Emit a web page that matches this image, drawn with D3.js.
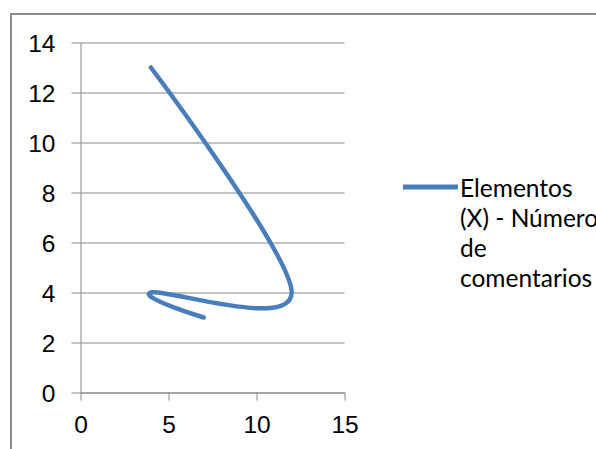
<!DOCTYPE html>
<html>
<head>
<meta charset="utf-8">
<script src="https://cdn.jsdelivr.net/npm/d3@7.9.0/dist/d3.min.js"></script>
<style>
  html, body { margin: 0; padding: 0; background: #fff; }
  svg { display: block; font-family: Lato, "Liberation Sans", sans-serif; }
</style>
</head>
<body>
<svg id="chart" width="596" height="449"></svg>
<script>
// series: elementos (x) vs numero de comentarios (y)
const xValues = [4, 12, 4, 7];
const yValues = [13, 4, 4, 3];
const xTicks = [0, 5, 10, 15];
const yTicks = [0, 2, 4, 6, 8, 10, 12, 14];
const legendLines = ['Elementos', '(X) - Número', 'de', 'comentarios'];

const points = xValues.map((x, i) => ({ x, y: yValues[i] }));

const width = 596;
const height = 449;
const plot = { left: 80.5, right: 344.5, top: 42.5, bottom: 392.5 };
const lineColor = '#4a7ebb';
const gridColor = '#878787';
const fontSize = '24.5px';

const svg = d3.select('#chart');

svg.append('rect')
  .attr('width', width)
  .attr('height', height)
  .attr('fill', '#fff');

// chart area border (cropped on the right and bottom)
svg.append('rect')
  .attr('x', 11)
  .attr('y', 14)
  .attr('width', 700)
  .attr('height', 600)
  .attr('fill', 'none')
  .attr('stroke', '#8c8c8c')
  .attr('stroke-width', 2);

const xScale = d3.scaleLinear().domain([0, 15]).range([plot.left, plot.right]);
const yScale = d3.scaleLinear().domain([0, 14]).range([plot.bottom, plot.top]);

// horizontal gridlines
const grid = svg.append('g')
  .attr('class', 'gridlines')
  .attr('transform', `translate(${plot.left},0)`)
  .call(d3.axisLeft(yScale).tickValues(yTicks).tickFormat('').tickSize(-(plot.right - plot.left)));
grid.select('.domain').remove();
grid.selectAll('line').attr('stroke', gridColor).attr('stroke-width', 1);

// y axis
const yAxis = svg.append('g')
  .attr('transform', `translate(${plot.left},0)`)
  .call(d3.axisLeft(yScale).tickValues(yTicks).tickSize(9).tickSizeOuter(0).tickPadding(16));
yAxis.select('.domain').attr('stroke', gridColor);
yAxis.selectAll('line').attr('stroke', gridColor);
yAxis.selectAll('text')
  .attr('fill', '#000')
  .style('font-size', fontSize)
  .attr('dy', '0.36em');

// x axis
const xAxis = svg.append('g')
  .attr('transform', `translate(0,${plot.bottom})`)
  .call(d3.axisBottom(xScale).tickValues(xTicks).tickSize(8).tickSizeOuter(0));
xAxis.select('.domain').attr('stroke', gridColor);
xAxis.selectAll('line').attr('stroke', gridColor);
xAxis.selectAll('text')
  .attr('fill', '#000')
  .style('font-size', fontSize)
  .attr('y', 40)
  .attr('dy', 0);

// smoothed scatter line
const line = d3.line()
  .x(d => xScale(d.x))
  .y(d => yScale(d.y))
  .curve(d3.curveCardinal.tension(0));

svg.append('path')
  .datum(points)
  .attr('d', line)
  .attr('fill', 'none')
  .attr('stroke', lineColor)
  .attr('stroke-width', 4.5)
  .attr('stroke-linecap', 'round')
  .attr('stroke-linejoin', 'round');

// legend
const legend = svg.append('g').attr('transform', 'translate(403,187)');
legend.append('line')
  .attr('x1', 0).attr('x2', 55)
  .attr('y1', 0).attr('y2', 0)
  .attr('stroke', lineColor)
  .attr('stroke-width', 5);
legend.selectAll('text')
  .data(legendLines)
  .join('text')
  .attr('x', 57)
  .attr('y', (d, i) => 10 + i * 30)
  .attr('fill', '#000')
  .style('font-size', fontSize)
  .text(d => d);
</script>
</body>
</html>
